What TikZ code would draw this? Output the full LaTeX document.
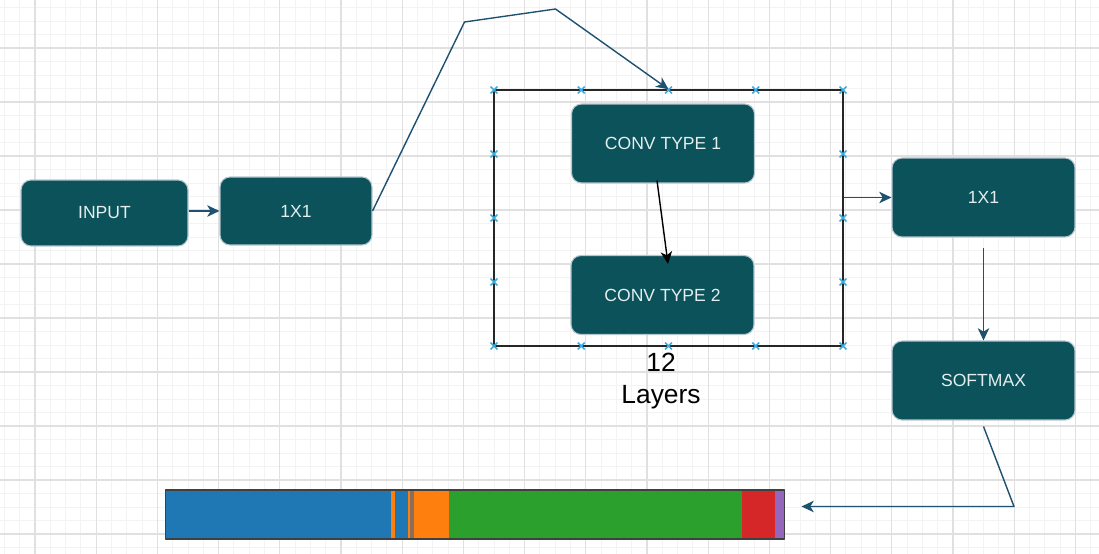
\documentclass[tikz,border=0pt]{standalone}
\usepackage{fontspec}
\setmainfont{Liberation Sans}
\usetikzlibrary{positioning,arrows.meta}
\definecolor{boxfill}{HTML}{0C525A}
\definecolor{boxline}{HTML}{B4C6CF}
\definecolor{boxtext}{HTML}{E4EEEE}
\definecolor{wirecol}{HTML}{1E5170}
\definecolor{handle}{HTML}{3FA9E0}
\definecolor{gridminor}{HTML}{F3F3F3}
\definecolor{gridmajor}{HTML}{E0E0E0}
\definecolor{tabblue}{HTML}{1F77B4}
\definecolor{taborange}{HTML}{FF7F0E}
\definecolor{tabgreen}{HTML}{2CA02C}
\definecolor{tabred}{HTML}{D62728}
\definecolor{tabpurple}{HTML}{9467BD}
\definecolor{tabgray}{HTML}{8A6E5A}
\begin{document}
\begin{tikzpicture}[x=0.02cm,y=-0.02cm,>={Stealth[length=7pt,width=6.5pt,inset=2pt]},line join=round]
  \tikzstyle{block}=[draw=boxline,fill=boxfill,text=boxtext,rounded corners=0.2cm,line width=0.6pt,font=\fontsize{10}{12}\selectfont,minimum width=3.66cm,minimum height=1.58cm]
  \tikzstyle{wire}=[draw=wirecol,line width=0.8pt]
  \tikzstyle{hdl}=[draw=handle,line width=0.9pt]
  \def\gx{15.3}	% minor grid step, x
  \def\gy{13.5}	% minor grid step, y
  \def\hs{3.4}	% half size of handle crosses
  \useasboundingbox (0,0) rectangle (1099,554);
  \fill[white] (0,0) rectangle (1099,554);
  % grid
  \foreach \i in {0,...,71} \draw[gridminor,line width=0.5pt] ({4.4+\gx*\i},0) -- +(0,554);
  \foreach \i in {0,...,40} \draw[gridminor,line width=0.5pt] (0,{7.5+\gy*\i}) -- +(1099,0);
  \foreach \i in {0,...,17} \draw[gridmajor,line width=0.6pt] ({35+4*\gx*\i},0) -- +(0,554);
  \foreach \i in {0,...,9} \draw[gridmajor,line width=0.6pt] (0,{48+4*\gy*\i}) -- +(1099,0);
  % blocks
  \node[block,minimum width=3.34cm,minimum height=1.32cm] (in) at (104.5,213) {INPUT};
  \node[block,minimum width=3.04cm,minimum height=1.36cm] (cin) at (296,211) {1X1};
  \node[draw=black!85,line width=0.9pt,minimum width=6.98cm,minimum height=5.12cm,inner sep=0] (frame) at (668.5,218) {};
  \node[block] (ct1) at (663,143.5) {CONV TYPE 1};
  \node[block] (ct2) at (662.5,295) {CONV TYPE 2};
  \node[block] (cout) at (983.5,197.5) {1X1};
  \node[block] (soft) at (983.5,380.5) {SOFTMAX};
  \node[font=\fontsize{15}{18}\selectfont,align=center,inner sep=0] (lay) at (661,381) {12\\Layers};
  % handles of the frame
  \foreach \x in {494,581.25,668.5,755.75,843} \foreach \y in {90,346}
    \draw[hdl] (\x,\y) +(-\hs,-\hs) -- +(\hs,\hs) +(-\hs,\hs) -- +(\hs,-\hs);
  \foreach \x in {494,843} \foreach \y in {154,218,282}
    \draw[hdl] (\x,\y) +(-\hs,-\hs) -- +(\hs,\hs) +(-\hs,\hs) -- +(\hs,-\hs);
  % output bar
  \foreach \a/\b/\c in {165/391.3/tabblue,391.3/394.7/taborange,394.7/407.7/tabblue,407.7/410/taborange,410/414.3/tabgray,414.3/449/taborange,449/742.3/tabgreen,742.3/775/tabred,775/785/tabpurple}
    \fill[\c] (\a,490) rectangle (\b,539);
  \node[draw=black!75,line width=0.6pt,minimum width=12.4cm,minimum height=0.98cm,inner sep=0] (bar) at (475,514.5) {};
  % connectors
  \draw[wire,->] (in.east |- cin) -- (cin.west);
  \path (cin.east) + (92,-189) coordinate (k1);
  \path (k1) + (91,-13) coordinate (k2);
  \draw[wire,->] (cin.east) -- (k1) -- (k2) -- (frame.north);
  \path (ct1.south) + (-6,-3) coordinate (c1o);
  \path (ct2.north) + (5.5,9) coordinate (c2i);
  \draw[->,line width=0.8pt] (c1o) -- (c2i);
  \draw[wire,->] (frame.east |- cout.west) -- (cout.west);
  \path (cout.south) + (0,10) coordinate (co);
  \draw[wire,->] (co) -- (soft.north);
  \path (soft.south) + (0,6) coordinate (so);
  \path (so) + (30.5,80) coordinate (k3);
  \path (bar.east) + (16,-8) coordinate (bi);
  \draw[wire,->] (so) -- (k3) -- (bi);
\end{tikzpicture}
\end{document}
